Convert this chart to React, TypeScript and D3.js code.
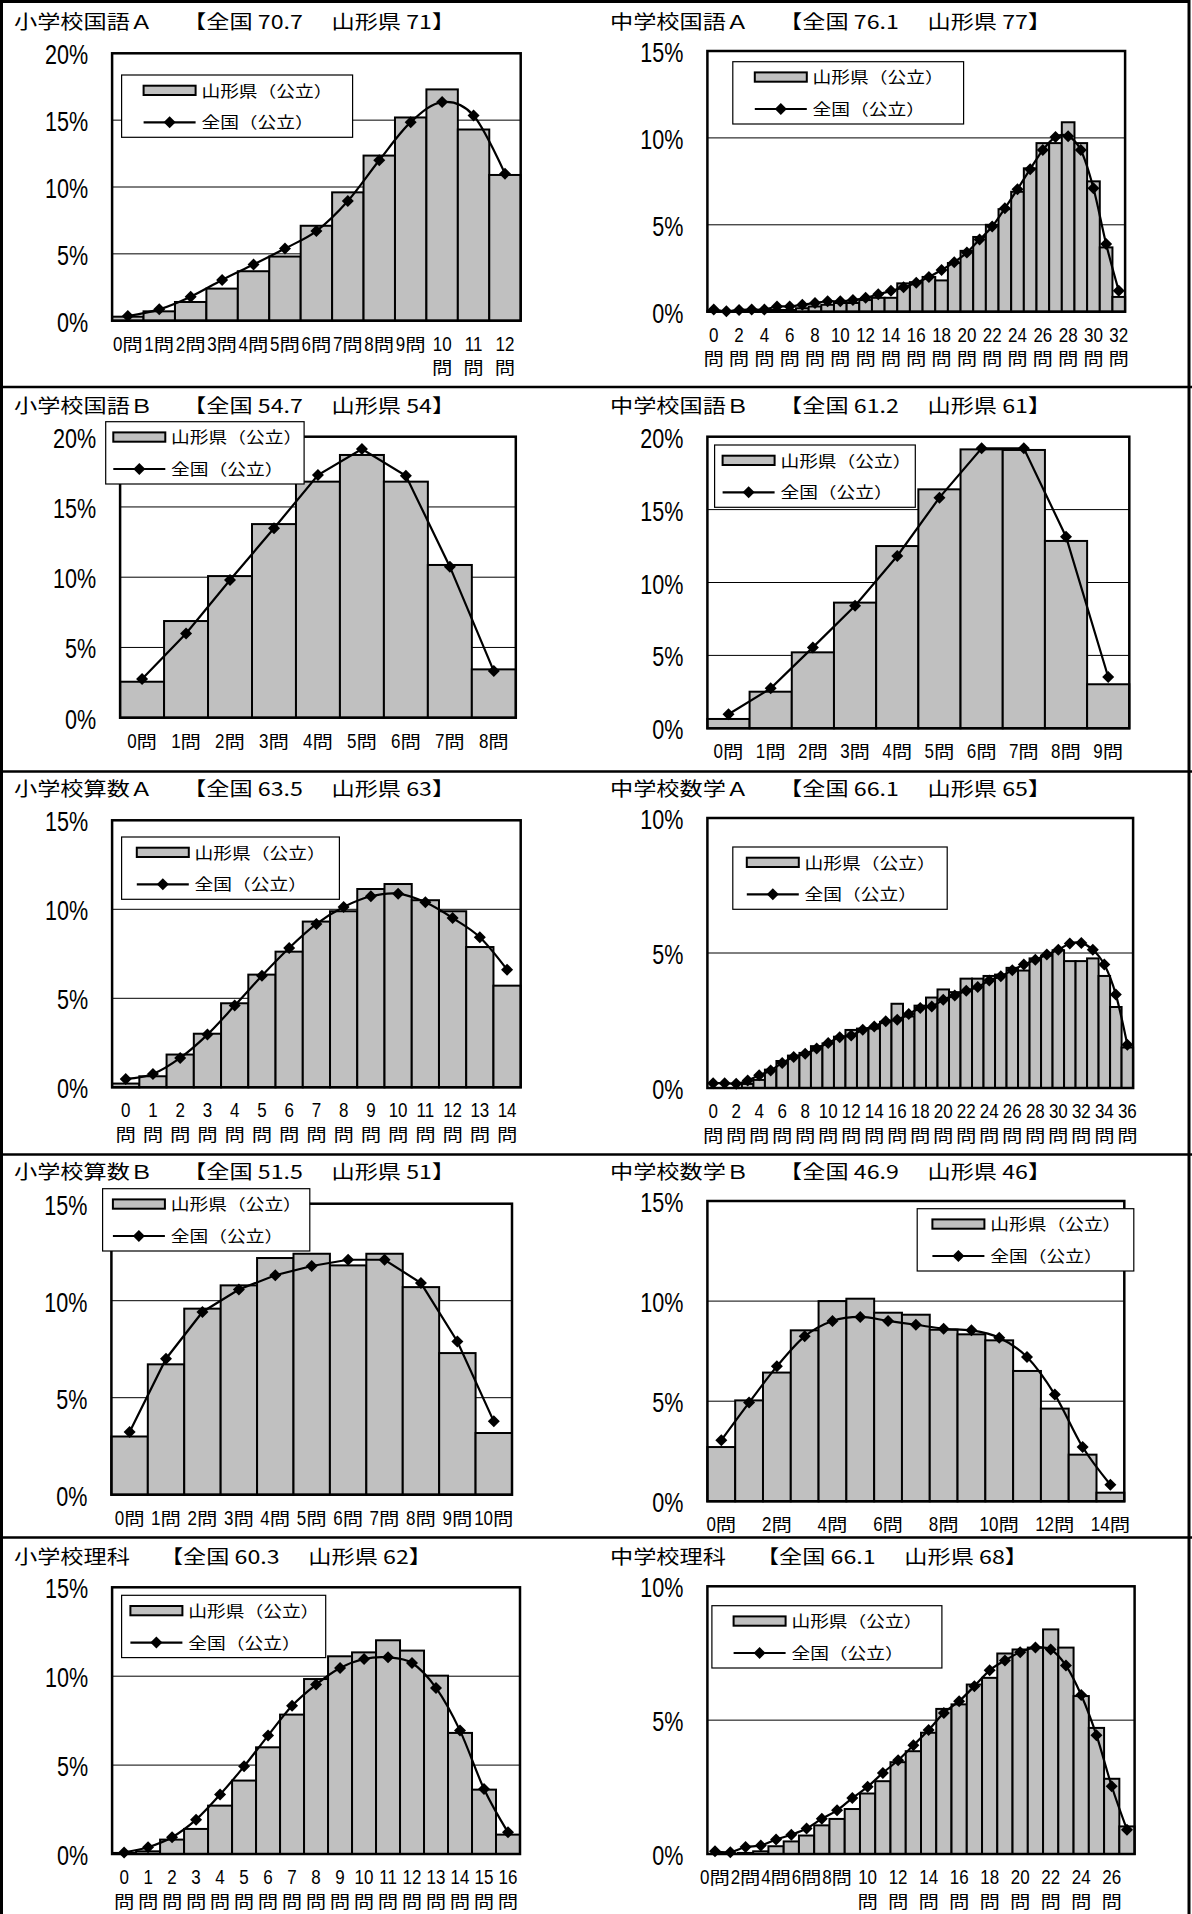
import React from "react";
import * as d3 from "d3";

// ---------- categories / data ----------
const cats = (n: number) => d3.range(n).map((i) => `${i}問`);

const p1Subject = "小学校国語Ａ";
const p1Scores = ["70.7", "71"];
const p1Categories = cats(13);
const p1Yamagata = [0.3, 0.7, 1.4, 2.4, 3.7, 4.8, 7.1, 9.6, 12.35, 15.2, 17.3, 14.3, 10.9];
const p1Zenkoku = [0.35, 0.85, 1.8, 3.05, 4.2, 5.4, 6.7, 8.95, 12.0, 14.85, 16.35, 15.35, 11.0];
const p1Ticks = [0, 5, 10, 15, 20];

const p2Subject = "中学校国語Ａ";
const p2Scores = ["76.1", "77"];
const p2Categories = cats(33);
const p2Yamagata = [0.05, 0, 0.05, 0.05, 0.05, 0.1, 0.1, 0.2, 0.3, 0.4, 0.5, 0.5, 0.67, 0.8, 0.8, 1.63, 1.7, 2.0, 1.8, 2.8, 3.5, 4.3, 5.0, 5.9, 6.9, 8.25, 9.7, 9.7, 10.9, 9.7, 7.5, 3.7, 0.85];
const p2Zenkoku = [0.12, 0.02, 0.1, 0.12, 0.12, 0.3, 0.3, 0.4, 0.5, 0.6, 0.6, 0.67, 0.8, 1.0, 1.2, 1.4, 1.67, 2.0, 2.4, 2.85, 3.4, 4.15, 4.9, 5.95, 7.05, 8.2, 9.3, 10.05, 10.1, 9.3, 7.1, 3.9, 1.2];
const p2Ticks = [0, 5, 10, 15];

const p3Subject = "小学校国語Ｂ";
const p3Scores = ["54.7", "54"];
const p3Categories = cats(9);
const p3Yamagata = [2.56, 6.88, 10.08, 13.78, 16.8, 18.7, 16.8, 10.87, 3.44];
const p3Zenkoku = [2.75, 6.0, 9.8, 13.48, 17.27, 19.12, 17.22, 10.75, 3.32];
const p3Ticks = [0, 5, 10, 15, 20];

const p4Subject = "中学校国語Ｂ";
const p4Scores = ["61.2", "61"];
const p4Categories = cats(10);
const p4Yamagata = [0.64, 2.51, 5.21, 8.62, 12.5, 16.39, 19.13, 19.09, 12.85, 3.02];
const p4Zenkoku = [0.96, 2.74, 5.55, 8.41, 11.82, 15.82, 19.2, 19.2, 13.14, 3.52];
const p4Ticks = [0, 5, 10, 15, 20];

const p5Subject = "小学校算数Ａ";
const p5Scores = ["63.5", "63"];
const p5Categories = cats(15);
const p5Yamagata = [0.21, 0.62, 1.84, 3.01, 4.72, 6.33, 7.62, 9.31, 9.89, 11.14, 11.42, 10.51, 9.89, 7.88, 5.71];
const p5Zenkoku = [0.47, 0.75, 1.65, 2.96, 4.59, 6.27, 7.83, 9.18, 10.13, 10.73, 10.88, 10.39, 9.51, 8.43, 6.61];
const p5Ticks = [0, 5, 10, 15];

const p6Subject = "中学校数学Ａ";
const p6Scores = ["66.1", "65"];
const p6Categories = cats(37);
const p6Yamagata = [0, 0, 0, 0.15, 0.3, 0.68, 1.0, 1.2, 1.3, 1.55, 1.65, 1.9, 2.15, 2.2, 2.2, 2.45, 3.12, 2.65, 3.05, 3.35, 3.65, 3.55, 4.05, 4.05, 4.15, 4.2, 4.45, 4.35, 4.8, 4.9, 5.1, 4.7, 4.7, 4.8, 4.15, 3.0, 1.5];
const p6Zenkoku = [0.18, 0.18, 0.16, 0.28, 0.47, 0.65, 0.93, 1.15, 1.27, 1.46, 1.67, 1.88, 1.94, 2.16, 2.28, 2.47, 2.53, 2.74, 2.96, 3.02, 3.27, 3.43, 3.6, 3.74, 3.98, 4.14, 4.36, 4.57, 4.75, 4.94, 5.12, 5.35, 5.37, 5.12, 4.57, 3.46, 1.6];
const p6Ticks = [0, 5, 10];

const p7Subject = "小学校算数Ｂ";
const p7Scores = ["51.5", "51"];
const p7Categories = cats(11);
const p7Yamagata = [3.0, 6.72, 9.59, 10.79, 12.2, 12.42, 11.82, 12.42, 10.7, 7.3, 3.18];
const p7Zenkoku = [3.23, 7.01, 9.42, 10.58, 11.31, 11.79, 12.11, 12.11, 10.91, 7.9, 3.78];
const p7Ticks = [0, 5, 10, 15];

const p8Subject = "中学校数学Ｂ";
const p8Scores = ["46.9", "46"];
const p8Categories = cats(15);
const p8Yamagata = [2.71, 5.04, 6.43, 8.54, 10.0, 10.12, 9.42, 9.32, 8.57, 8.34, 8.04, 6.51, 4.63, 2.33, 0.43];
const p8Zenkoku = [3.05, 4.93, 6.74, 8.24, 9.01, 9.21, 9.01, 8.82, 8.62, 8.54, 8.17, 7.21, 5.33, 2.71, 0.83];
const p8Ticks = [0, 5, 10, 15];

const p9Subject = "小学校理科";
const p9Scores = ["60.3", "62"];
const p9Categories = cats(17);
const p9Yamagata = [0.06, 0.15, 0.81, 1.41, 2.72, 4.13, 6.0, 7.84, 9.84, 11.12, 11.34, 12.02, 11.44, 10.03, 6.81, 3.62, 1.09];
const p9Zenkoku = [0.09, 0.38, 0.94, 1.93, 3.34, 4.93, 6.66, 8.34, 9.53, 10.46, 10.97, 11.06, 10.74, 9.34, 6.94, 3.66, 1.22];
const p9Ticks = [0, 5, 10, 15];

const p10Subject = "中学校理科";
const p10Scores = ["66.1", "68"];
const p10Categories = cats(28);
const p10Yamagata = [0, 0, 0.04, 0.1, 0.29, 0.47, 0.69, 1.07, 1.31, 1.68, 2.26, 2.72, 3.43, 3.84, 4.53, 5.42, 5.59, 6.33, 6.58, 7.49, 7.64, 7.71, 8.39, 7.71, 5.9, 4.71, 2.81, 1.03];
const p10Zenkoku = [0.1, 0.07, 0.26, 0.32, 0.54, 0.72, 0.95, 1.32, 1.63, 2.09, 2.51, 3.03, 3.5, 4.06, 4.63, 5.27, 5.71, 6.27, 6.86, 7.23, 7.54, 7.71, 7.64, 7.04, 5.94, 4.44, 2.53, 0.91];
const p10Ticks = [0, 5, 10];

const legendPref = "山形県（公立）";
const legendNation = "全国（公立）";

// ---------- layout (positions / styles) ----------
type Layout = {
  x0: number; x1: number; y0: number; y1: number;
  tx: number; ty: number;
  lx: number; ly: number; lw: number; ls: number;
  smooth: boolean; step: number; twoFrom: number;
};

const layouts: Layout[] = [
  { x0: 112.1, x1: 520.7, y0: 53.3, y1: 320.7, tx: 14, ty: 28.7, lx: 121.6, ly: 75, lw: 231, ls: 22, smooth: true, step: 1, twoFrom: 10 },
  { x0: 707.4, x1: 1125.1, y0: 51, y1: 311.7, tx: 610, ty: 28.7, lx: 732.8, ly: 61.7, lw: 230.8, ls: 22, smooth: true, step: 2, twoFrom: 0 },
  { x0: 120.1, x1: 515.8, y0: 436.7, y1: 717.7, tx: 14, ty: 412.5, lx: 105.7, ly: 421.7, lw: 198.4, ls: 7.6, smooth: false, step: 1, twoFrom: 999 },
  { x0: 707.4, x1: 1129.3, y0: 436.7, y1: 728.3, tx: 610, ty: 412.5, lx: 714.6, ly: 445, lw: 200.7, ls: 8, smooth: false, step: 1, twoFrom: 999 },
  { x0: 112.1, x1: 520.7, y0: 820.3, y1: 1087.3, tx: 14, ty: 796, lx: 121.6, ly: 837, lw: 217.8, ls: 15.2, smooth: true, step: 1, twoFrom: 0 },
  { x0: 707.4, x1: 1133.1, y0: 818, y1: 1088, tx: 610, ty: 796, lx: 732.8, ly: 847, lw: 214.4, ls: 14, smooth: true, step: 2, twoFrom: 0 },
  { x0: 111.4, x1: 512, y0: 1203.7, y1: 1494.7, tx: 14, ty: 1179, lx: 102.6, ly: 1188.7, lw: 207.2, ls: 10.3, smooth: false, step: 1, twoFrom: 999 },
  { x0: 707.4, x1: 1124.3, y0: 1201, y1: 1501.3, tx: 610, ty: 1179, lx: 917.2, ly: 1208.7, lw: 216.6, ls: 15.2, smooth: true, step: 2, twoFrom: 999 },
  { x0: 112.1, x1: 520, y0: 1587.3, y1: 1854, tx: 14, ty: 1563.5, lx: 121.6, ly: 1595.3, lw: 204.1, ls: 8.8, smooth: true, step: 1, twoFrom: 0 },
  { x0: 707.4, x1: 1134.6, y0: 1586.3, y1: 1854, tx: 610, ty: 1563.5, lx: 711.9, ly: 1605.7, lw: 230, ls: 21.7, smooth: true, step: 2, twoFrom: 10 },
];

const panels = [
  { subject: p1Subject, scores: p1Scores, categories: p1Categories, pref: p1Yamagata, nation: p1Zenkoku, ticks: p1Ticks },
  { subject: p2Subject, scores: p2Scores, categories: p2Categories, pref: p2Yamagata, nation: p2Zenkoku, ticks: p2Ticks },
  { subject: p3Subject, scores: p3Scores, categories: p3Categories, pref: p3Yamagata, nation: p3Zenkoku, ticks: p3Ticks },
  { subject: p4Subject, scores: p4Scores, categories: p4Categories, pref: p4Yamagata, nation: p4Zenkoku, ticks: p4Ticks },
  { subject: p5Subject, scores: p5Scores, categories: p5Categories, pref: p5Yamagata, nation: p5Zenkoku, ticks: p5Ticks },
  { subject: p6Subject, scores: p6Scores, categories: p6Categories, pref: p6Yamagata, nation: p6Zenkoku, ticks: p6Ticks },
  { subject: p7Subject, scores: p7Scores, categories: p7Categories, pref: p7Yamagata, nation: p7Zenkoku, ticks: p7Ticks },
  { subject: p8Subject, scores: p8Scores, categories: p8Categories, pref: p8Yamagata, nation: p8Zenkoku, ticks: p8Ticks },
  { subject: p9Subject, scores: p9Scores, categories: p9Categories, pref: p9Yamagata, nation: p9Zenkoku, ticks: p9Ticks },
  { subject: p10Subject, scores: p10Scores, categories: p10Categories, pref: p10Yamagata, nation: p10Zenkoku, ticks: p10Ticks },
];

const FONT_JP = "'Noto Sans CJK JP', 'Noto Sans', sans-serif";
const FONT_NUM = "'Liberation Sans', Arial, sans-serif";
const BAR_FILL = "#c0c0c0";

const TITLE_FS = 19;
const TITLE_SX = 1.22;
const EM = TITLE_FS * TITLE_SX;

const DIG_FS = 19.5;
const DIG_SX = 0.87;
const DIG_ADV = 0.556 * DIG_FS * DIG_SX;
const KAN_FS = 17;
const KAN_SX = 1.2;
const KAN_ADV = KAN_FS * KAN_SX;

const diamond = (x: number, y: number, r = 6) =>
  `M${x},${y - r}L${x + r},${y}L${x},${y + r}L${x - r},${y}Z`;

function CatLabel({ cx, base, label, two }: { cx: number; base: number; label: string; two: boolean }) {
  const m = label.match(/^(\d+)(.*)$/);
  const num = m ? m[1] : label;
  const kan = m ? m[2] : "";
  if (two) {
    return (
      <g>
        <text transform={`translate(${cx},${base + 30}) scale(${DIG_SX},1)`} textAnchor="middle" fontFamily={FONT_NUM} fontSize={DIG_FS}>{num}</text>
        <text transform={`translate(${cx},${base + 53.5}) scale(${KAN_SX},1)`} textAnchor="middle" fontFamily={FONT_JP} fontSize={KAN_FS}>{kan}</text>
      </g>
    );
  }
  const dAdv = DIG_ADV * num.length;
  const sx = cx - (dAdv + KAN_ADV) / 2;
  return (
    <g>
      <text transform={`translate(${sx},${base + 30}) scale(${DIG_SX},1)`} fontFamily={FONT_NUM} fontSize={DIG_FS}>{num}</text>
      <text transform={`translate(${sx + dAdv},${base + 30}) scale(${KAN_SX},1)`} fontFamily={FONT_JP} fontSize={KAN_FS}>{kan}</text>
    </g>
  );
}

function Panel({ p, L }: { p: (typeof panels)[number]; L: Layout }) {
  const x = d3.scaleBand<string>().domain(p.categories).range([L.x0, L.x1]).padding(0);
  const yMax = p.ticks[p.ticks.length - 1];
  const y = d3.scaleLinear().domain([0, yMax]).range([L.y1, L.y0]);
  const bw = x.bandwidth();
  const cx = (c: string) => (x(c) as number) + bw / 2;
  const line = d3
    .line<number>()
    .x((_, i) => cx(p.categories[i]))
    .y((v) => y(v))
    .curve(L.smooth ? d3.curveCardinal.tension(0) : d3.curveLinear);

  const bx = L.tx + p.subject.length * EM + 30;
  const sw0 = L.lx + L.ls;

  return (
    <g>
      {/* title */}
      <text transform={`translate(${L.tx},${L.ty}) scale(${TITLE_SX},1)`} fontFamily={FONT_JP} fontSize={TITLE_FS}>{p.subject}</text>
      <text transform={`translate(${bx},${L.ty}) scale(${TITLE_SX},1)`} fontFamily={FONT_JP} fontSize={TITLE_FS}>
        {`【全国 ${p.scores[0]}　`}
        <tspan dx={4.5}>{`山形県 ${p.scores[1]}】`}</tspan>
      </text>

      {/* plot background */}
      <rect x={L.x0} y={L.y0} width={L.x1 - L.x0} height={L.y1 - L.y0} fill="#fff" />
      {/* gridlines */}
      {p.ticks.map((t) => (
        <line key={"g" + t} x1={L.x0} x2={L.x1} y1={y(t)} y2={y(t)} stroke="#000" strokeWidth={1} />
      ))}
      {/* y tick labels */}
      {p.ticks.map((t) => (
        <text key={"t" + t} transform={`translate(${L.x0 - 24},${y(t) + 11}) scale(0.77,1)`} textAnchor="end" fontFamily={FONT_NUM} fontSize={28}>{`${t}%`}</text>
      ))}
      {/* bars */}
      {p.categories.map((c, i) => (
        <rect key={"b" + i} x={x(c)} y={y(p.pref[i])} width={bw} height={L.y1 - y(p.pref[i])} fill={BAR_FILL} stroke="#000" strokeWidth={2} />
      ))}
      {/* line */}
      <path d={line(p.nation) || ""} fill="none" stroke="#000" strokeWidth={2.2} />
      {p.nation.map((v, i) => (
        <path key={"m" + i} d={diamond(cx(p.categories[i]), y(v))} fill="#000" />
      ))}
      {/* plot border */}
      <rect x={L.x0} y={L.y0} width={L.x1 - L.x0} height={L.y1 - L.y0} fill="none" stroke="#000" strokeWidth={2.5} />

      {/* category labels */}
      {p.categories.map((c, i) =>
        i % L.step === 0 ? (
          <CatLabel key={"c" + i} cx={cx(c)} base={L.y1} label={c} two={i >= L.twoFrom} />
        ) : null
      )}

      {/* legend */}
      <rect x={L.lx} y={L.ly} width={L.lw} height={62.3} fill="#fff" stroke="#000" strokeWidth={1.2} />
      <rect x={sw0} y={L.ly + 10.7} width={52} height={9.3} fill={BAR_FILL} stroke="#000" strokeWidth={2} />
      <text transform={`translate(${sw0 + 57.8},${L.ly + 21.6}) scale(1.21,1)`} fontFamily={FONT_JP} fontSize={15.5}>{legendPref}</text>
      <line x1={sw0} x2={sw0 + 52} y1={L.ly + 47.3} y2={L.ly + 47.3} stroke="#000" strokeWidth={2.2} />
      <path d={diamond(sw0 + 26, L.ly + 47.3)} fill="#000" />
      <text transform={`translate(${sw0 + 57.8},${L.ly + 53.2}) scale(1.21,1)`} fontFamily={FONT_JP} fontSize={15.5}>{legendNation}</text>
    </g>
  );
}

const separators = [387, 771.5, 1154.5, 1537.5];

export default function App() {
  return (
    <svg
      width={1192}
      height={1914}
      viewBox="0 0 1192 1914"
      style={{ position: "absolute", left: 0, top: 0, background: "#fff" }}
    >
      <rect x={0} y={0} width={1192} height={1914} fill="#fff" />
      {panels.map((p, i) => (
        <Panel key={i} p={p} L={layouts[i]} />
      ))}
      <rect x={1.5} y={1.5} width={1187.5} height={1930} fill="none" stroke="#000" strokeWidth={3} />
      {separators.map((s) => (
        <line key={s} x1={0} x2={1192} y1={s} y2={s} stroke="#000" strokeWidth={2.5} />
      ))}
    </svg>
  );
}
